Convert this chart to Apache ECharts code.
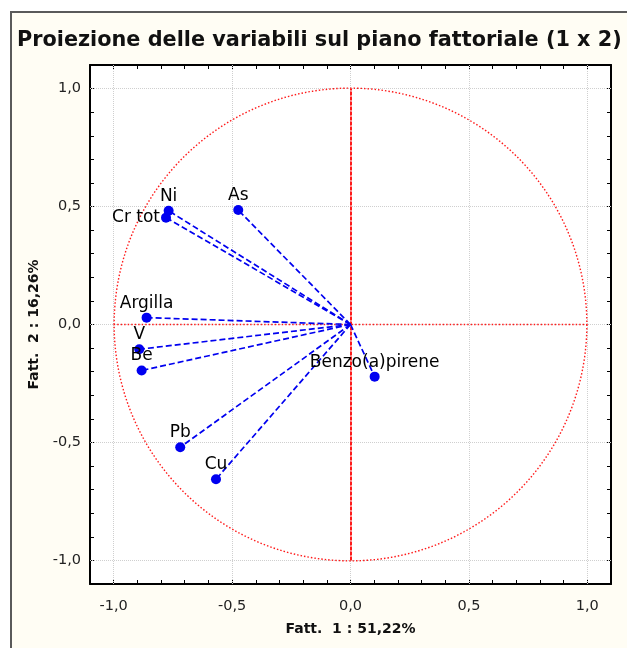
<!DOCTYPE html>
<html>
<head>
<meta charset="utf-8">
<script src="https://cdn.jsdelivr.net/npm/echarts@6/dist/echarts.min.js"></script>
<style>html,body{margin:0;padding:0;background:#fff;}#c{width:627px;height:648px;}</style>
</head>
<body>
<div id="c"></div>
<script>
// ---- data ----
const names = ['Ni', 'Cr tot', 'As', 'Argilla', 'V', 'Be', 'Benzo(a)pirene', 'Pb', 'Cu'];
const fatt1 = [-0.768, -0.779, -0.474, -0.861, -0.892, -0.882, 0.102, -0.719, -0.568];
const fatt2 = [0.482, 0.453, 0.485, 0.029, -0.105, -0.195, -0.221, -0.520, -0.656];
const gridValues = [-1, -0.5, 0, 0.5, 1];
const titleText = 'Proiezione delle variabili sul piano fattoriale (1 x 2)';
const xName = 'Fatt.  1 : 51,22%';
const yName = 'Fatt.  2 : 16,26%';

// ---- styles ----
const FONT = 'DejaVu Sans';
const labelPos = { 'Cr tot': 'left' };
const fmt = v => {
  const k = Math.round(v * 10);
  if (k % 5 !== 0) return '';
  return (k / 10).toFixed(1).replace('.', ',');
};
const blue = '#0000f0';
const red = '#ff1a1a';

const chart = echarts.init(document.getElementById('c'), null, { renderer: 'canvas' });

function axisBase(pos, showLabel, name, nameGap) {
  return {
    type: 'value', min: -1.1, max: 1.1, interval: 0.1, position: pos,
    axisLine: { show: true, onZero: false, lineStyle: { color: '#000', width: 2 } },
    axisTick: { show: true, inside: true, length: 4, lineStyle: { color: '#000', width: 1 } },
    axisLabel: { show: showLabel, formatter: fmt, fontSize: 14.5, color: '#222', fontFamily: FONT,
                 margin: (pos === 'bottom' ? 15 : 9), showMinLabel: true, showMaxLabel: true },
    splitLine: { show: false },
    name: name || '', nameLocation: 'middle', nameGap: nameGap || 0,
    nameTextStyle: { fontWeight: 'bold', fontSize: 14, color: '#111', fontFamily: FONT }
  };
}

const pointData = names.map((n, i) => ({
  name: n,
  value: [fatt1[i], fatt2[i]],
  label: { position: labelPos[n] || 'top', distance: 1 }
}));

const option = {
  backgroundColor: '#fffdf4',
  animation: false,
  title: {
    text: titleText, left: 17, top: 30, padding: 0,
    textStyle: { fontFamily: FONT, fontWeight: 'bold', fontSize: 20.8, color: '#111' }
  },
  graphic: [
    { type: 'rect', shape: { x: 0, y: 0, width: 627, height: 11 }, style: { fill: '#fff' }, silent: true },
    { type: 'rect', shape: { x: 0, y: 0, width: 10, height: 648 }, style: { fill: '#fff' }, silent: true },
    { type: 'polyline', shape: { points: [[11, 648], [11, 12], [627, 12]] },
      style: { stroke: '#5a5a5a', lineWidth: 2, fill: null }, silent: true }
  ],
  grid: { left: 90, right: 16, top: 65, bottom: 64, show: true, backgroundColor: '#fff', borderColor: '#000', borderWidth: 0 },
  xAxis: [axisBase('bottom', true, xName, 38), axisBase('top', false)],
  yAxis: [axisBase('left', true, yName, 44), axisBase('right', false)],
  series: [
    {
      type: 'line', data: [], z: 1, silent: true,
      markLine: {
        z: 1, silent: true, symbol: 'none', label: { show: false },
        lineStyle: { type: 'dotted', color: '#cfcfcf', width: 1 },
        data: gridValues.map(v => ({ xAxis: v })).concat(gridValues.map(v => ({ yAxis: v })))
      }
    },
    {
      type: 'custom', z: 2, silent: true, data: [[0, 0]],
      renderItem: function (params, api) {
        const c = api.coord([0, 0]);
        const s = api.size([1, 1]);
        return {
          type: 'circle',
          shape: { cx: c[0], cy: c[1], r: (s[0] + s[1]) / 2 },
          style: { fill: null, stroke: red, lineWidth: 1.4, lineDash: [1.5, 2] }
        };
      }
    },
    {
      type: 'lines', coordinateSystem: 'cartesian2d', z: 3, silent: true,
      lineStyle: { color: red, width: 1.4, type: [1.5, 2], opacity: 1 },
      data: [{ coords: [[-1, 0], [1, 0]] }]
    },
    {
      type: 'lines', coordinateSystem: 'cartesian2d', z: 3, silent: true,
      lineStyle: { color: red, width: 2, type: [4, 1], opacity: 1 },
      data: [{ coords: [[0, -1], [0, 1]] }]
    },
    {
      type: 'lines', coordinateSystem: 'cartesian2d', z: 4, silent: true,
      lineStyle: { color: blue, width: 1.7, type: [6, 3], opacity: 1 },
      data: names.map((n, i) => ({ coords: [[0, 0], [fatt1[i], fatt2[i]]] }))
    },
    {
      type: 'scatter', z: 5, symbol: 'circle', symbolSize: 10, silent: true,
      itemStyle: { color: blue, opacity: 1 },
      label: { show: true, formatter: '{b}', fontSize: 17, color: '#000', opacity: 1, fontFamily: FONT },
      data: pointData
    }
  ]
};
chart.setOption(option);
</script>
</body>
</html>
